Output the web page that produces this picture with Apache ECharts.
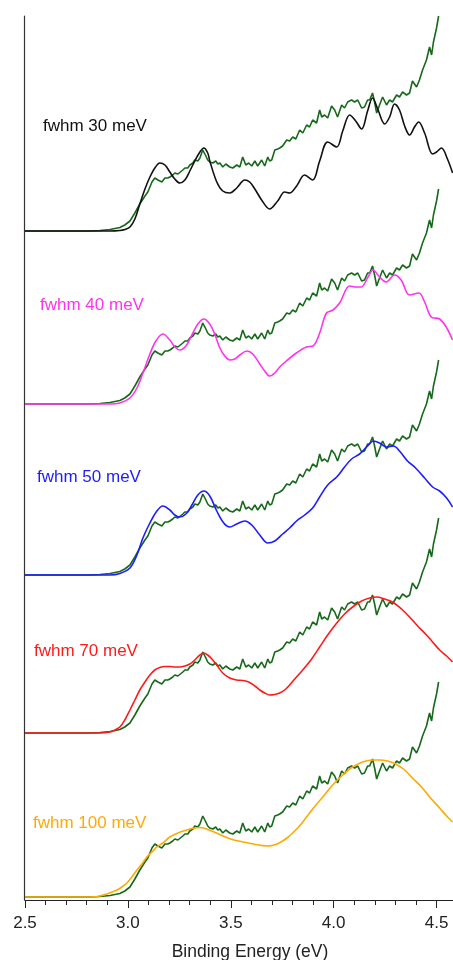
<!DOCTYPE html>
<html>
<head>
<meta charset="utf-8">
<script src="https://cdn.jsdelivr.net/npm/echarts@6/dist/echarts.min.js"></script>
<style>
  html, body { margin: 0; padding: 0; background: #fff; }
  #chart { width: 453px; height: 960px; }
</style>
</head>
<body>
<div id="chart"></div>
<script>
// Binding-energy axis ticks (eV)
const majorTicks = [2.5, 3.0, 3.5, 4.0, 4.5];
const minorTicks = [2.6, 2.7, 2.8, 2.9, 3.1, 3.2, 3.3, 3.4, 3.6, 3.7, 3.8, 3.9, 4.1, 4.2, 4.3, 4.4];

// Measured photoemission spectrum [binding energy (eV), intensity (arb.)]
const measured = [
  [2.500,0],[2.670,0],[2.815,0],[2.864,0.5],[2.913,1.5],[2.961,3.5],[2.985,6],[3.010,10],[3.034,18],
  [3.058,27],[3.083,35],[3.097,39],[3.117,49],[3.131,53],[3.146,51],[3.165,49],[3.180,53],[3.194,53],
  [3.204,54],[3.218,56],[3.228,58],[3.243,57],[3.252,59],[3.267,61],[3.277,63],[3.291,63],[3.301,66],
  [3.316,68],[3.325,71],[3.340,70],[3.350,73],[3.364,81],[3.379,75],[3.388,71],[3.398,69],[3.413,68],
  [3.427,70],[3.437,67],[3.447,68],[3.461,64],[3.476,67],[3.495,64],[3.510,63],[3.529,66],[3.544,64],
  [3.558,74],[3.573,66],[3.587,68],[3.602,65],[3.617,70],[3.631,65],[3.650,71],[3.665,65],[3.680,74],
  [3.689,70],[3.699,71],[3.714,81],[3.728,82],[3.738,83],[3.752,85],[3.772,91],[3.786,90],[3.801,94],
  [3.816,92],[3.835,101],[3.850,98],[3.869,106],[3.883,104],[3.898,111],[3.917,108],[3.932,121],
  [3.942,114],[3.956,116],[3.971,113],[3.990,125],[4.005,121],[4.019,114],[4.039,126],[4.053,123],
  [4.068,129],[4.087,131],[4.102,129],[4.117,131],[4.136,123],[4.150,124],[4.165,131],[4.175,131],
  [4.189,138],[4.199,129],[4.209,118],[4.223,126],[4.238,134],[4.257,126],[4.272,131],[4.286,129],
  [4.306,136],[4.320,134],[4.335,139],[4.354,136],[4.369,138],[4.383,150],[4.403,144],[4.417,151],
  [4.432,161],[4.451,171],[4.466,184],[4.476,176],[4.485,189],[4.500,203],[4.510,215]
];

// Simulated spectra for each Gaussian broadening
const fwhm30 = [
  [2.5,0],[2.913,0],[2.961,0.5],[2.985,1.5],[3.010,4],[3.034,12],[3.058,27],[3.083,42],[3.107,54],
  [3.131,63],[3.155,68],[3.180,66],[3.204,59],[3.228,52],[3.252,48],[3.277,51],[3.301,60],[3.325,70],
  [3.350,79],[3.369,83],[3.388,78],[3.398,70],[3.432,49],[3.461,40],[3.495,38],[3.529,43],[3.568,51],
  [3.592,49],[3.617,42],[3.650,31],[3.689,22],[3.728,30],[3.762,39],[3.786,38],[3.820,45],[3.859,56],
  [3.898,51],[3.932,70],[3.971,89],[4.015,84],[4.044,100],[4.078,116],[4.107,110],[4.136,102],
  [4.165,120],[4.189,133],[4.214,122],[4.248,107],[4.272,114],[4.296,127],[4.320,121],[4.345,105],
  [4.369,96],[4.393,104],[4.413,109],[4.442,98],[4.481,77],[4.500,79],[4.524,83],[4.553,72],[4.578,58]
];
const fwhm40 = [
  [2.5,0],[2.913,0],[2.961,1],[3.010,6],[3.044,16],[3.073,31],[3.107,50],[3.136,63],[3.170,70],
  [3.204,64],[3.228,57],[3.252,54],[3.282,58],[3.311,69],[3.340,80],[3.369,85],[3.398,80],[3.422,70],
  [3.447,56],[3.471,48],[3.495,44],[3.519,45],[3.544,49],[3.578,53],[3.607,50],[3.641,40],[3.665,33],
  [3.689,28],[3.714,31],[3.738,37],[3.770,43],[3.819,51],[3.867,57],[3.900,58],[3.932,71],[3.965,91],
  [3.997,94],[4.029,101],[4.078,118],[4.110,117],[4.134,117],[4.167,127],[4.191,134],[4.223,127],
  [4.255,122],[4.296,129],[4.328,124],[4.369,109],[4.414,111],[4.442,102],[4.474,87],[4.515,85],
  [4.547,77],[4.578,64]
];
const fwhm50 = [
  [2.5,0],[2.913,0],[2.961,1.5],[3.010,7],[3.044,20],[3.073,37],[3.107,52],[3.141,64],[3.170,69],
  [3.204,65],[3.228,60],[3.252,58],[3.282,61],[3.311,70],[3.340,80],[3.369,84],[3.398,79],[3.432,64],
  [3.466,52],[3.495,48],[3.529,51],[3.568,54],[3.602,50],[3.641,40],[3.680,32],[3.714,34],[3.752,41],
  [3.786,47],[3.820,54],[3.859,60],[3.898,67],[3.932,78],[3.971,90],[4.015,98],[4.053,108],[4.087,116],
  [4.126,121],[4.160,128],[4.194,134],[4.223,132],[4.257,128],[4.291,129],[4.320,124],[4.359,114],
  [4.398,107],[4.442,97],[4.481,88],[4.515,84],[4.549,77],[4.578,68]
];
const fwhm70 = [
  [2.5,0],[2.864,0],[2.913,1],[2.937,3],[2.961,6],[2.985,13],[3.010,23],[3.034,33],[3.058,43],
  [3.083,51],[3.107,58],[3.131,63],[3.155,65.5],[3.180,66.5],[3.204,66.5],[3.228,66],[3.252,66],
  [3.277,67],[3.301,69],[3.325,73],[3.350,78],[3.369,80],[3.388,78],[3.408,74],[3.432,68],[3.461,60],
  [3.495,55],[3.529,53],[3.558,52.5],[3.587,51],[3.617,47],[3.641,43],[3.665,40],[3.689,38],
  [3.714,38.5],[3.738,40],[3.762,43],[3.786,48],[3.811,54],[3.850,63],[3.893,74],[3.932,86],
  [3.971,98],[4.015,110],[4.053,119],[4.092,126],[4.136,132],[4.175,135],[4.209,136],[4.248,134],
  [4.286,131],[4.330,124],[4.369,116],[4.408,107],[4.451,98],[4.485,90],[4.515,83],[4.549,77],[4.578,71]
];
const fwhm100 = [
  [2.5,0],[2.791,0],[2.850,0.5],[2.898,3],[2.947,7],[2.971,10],[2.995,14],[3.019,20],[3.044,27],
  [3.068,33],[3.092,40],[3.117,45],[3.141,50],[3.170,54],[3.204,60],[3.243,64],[3.286,67],[3.325,69],
  [3.350,69.5],[3.383,68],[3.413,65.5],[3.447,62.5],[3.480,59.5],[3.515,57],[3.550,55.5],[3.585,54],
  [3.620,52.5],[3.650,51.5],[3.675,51],[3.700,51.5],[3.725,53],[3.752,56],[3.776,59.5],[3.801,64],
  [3.825,69],[3.850,75],[3.898,88],[3.947,100],[3.995,112],[4.044,122],[4.092,130],[4.141,135],
  [4.189,137],[4.223,137],[4.262,136],[4.301,133],[4.345,127],[4.383,119],[4.427,110],[4.471,99],
  [4.515,89],[4.549,81],[4.578,75]
];

// Panel order top to bottom, vertical offsets of each stacked pair (intensity units)
const panelLabels = ['fwhm 30 meV', 'fwhm 40 meV', 'fwhm 50 meV', 'fwhm 70 meV', 'fwhm 100 meV'];
const panelSims = [fwhm30, fwhm40, fwhm50, fwhm70, fwhm100];
const panelOffsets = [669, 496, 325, 167, 3];

const simColors = ['#111111', '#ff33ee', '#1c1cff', '#ff1a1a', '#ffaa00'];
const measuredColor = '#16691a';
const labelPos = [[43, 126], [40, 305], [37, 477], [34, 651], [33, 823]];

const shift = (pts, off) => pts.map(p => [p[0], p[1] + off]);

const series = [];
panelSims.forEach((sim, i) => {
  series.push({
    type: 'line', data: shift(measured, panelOffsets[i]), showSymbol: false,
    lineStyle: { color: measuredColor, width: 1.6 }, z: 2
  });
  series.push({
    type: 'line', data: shift(sim, panelOffsets[i]), showSymbol: false, smooth: 0.35,
    lineStyle: { color: simColors[i], width: 1.6 }, z: 3
  });
});

const chart = echarts.init(document.getElementById('chart'), null, { renderer: 'canvas' });
chart.setOption({
  animation: false,
  backgroundColor: '#fff',
  grid: { left: 25, right: 0, top: 16, bottom: 60, containLabel: false, outerBoundsMode: 'none' },
  xAxis: [
    {
      type: 'value', min: 2.5, max: 4.58, position: 'bottom',
      name: 'Binding Energy (eV)', nameLocation: 'middle', nameGap: 43,
      nameTextStyle: { fontFamily: 'Liberation Sans', fontSize: 17.5, color: '#222', padding: [0, 0, 0, 22] },
      axisLine: { show: true, lineStyle: { color: '#222', width: 1 } },
      axisTick: { show: true, customValues: majorTicks, length: 8, lineStyle: { color: '#222' } },
      axisLabel: {
        show: true, customValues: majorTicks, margin: 15,
        formatter: v => v.toFixed(1),
        fontFamily: 'Liberation Sans', fontSize: 17, color: '#222'
      },
      splitLine: { show: false }
    },
    {
      type: 'value', min: 2.5, max: 4.58, position: 'bottom',
      axisLine: { show: false },
      axisTick: { show: true, customValues: minorTicks, length: 5, lineStyle: { color: '#222' } },
      axisLabel: { show: false },
      splitLine: { show: false }
    }
  ],
  yAxis: {
    type: 'value', min: 0, max: 884, offset: 1,
    axisLine: { show: true, lineStyle: { color: '#333', width: 1.2 } },
    axisTick: { show: false }, axisLabel: { show: false }, splitLine: { show: false }
  },
  series: series,
  graphic: panelLabels.map((t, i) => ({
    type: 'text', x: labelPos[i][0], y: labelPos[i][1], z: 10,
    style: {
      text: t, fill: simColors[i], font: '17px "Liberation Sans"',
      verticalAlign: 'middle', align: 'left'
    }
  }))
});
</script>
</body>
</html>
